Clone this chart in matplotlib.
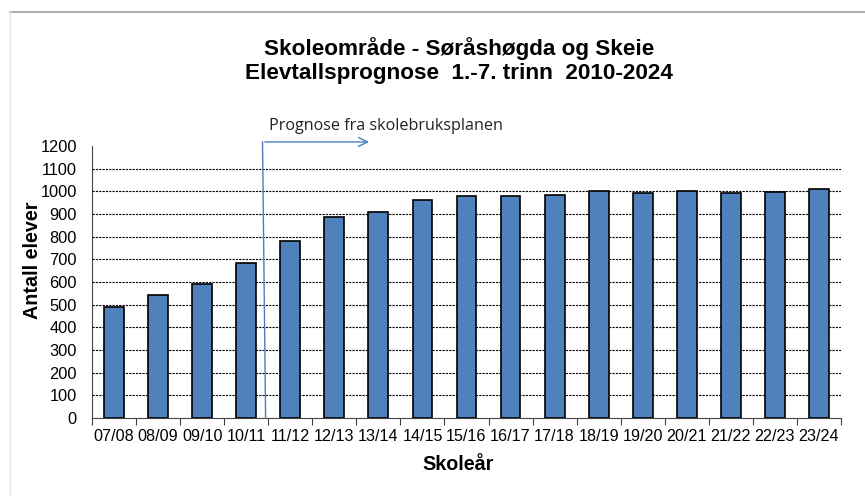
import matplotlib.pyplot as plt
from matplotlib.lines import Line2D
import numpy as np

skolear = ["07/08", "08/09", "09/10", "10/11", "11/12", "12/13", "13/14", "14/15",
           "15/16", "16/17", "17/18", "18/19", "19/20", "20/21", "21/22", "22/23", "23/24"]
elever = [490, 541, 590, 682, 779, 885, 910, 960, 980, 980, 985, 1000, 995, 1000, 995, 998, 1009]

plt.rcParams['font.family'] = ['Liberation Sans', 'DejaVu Sans']

fig = plt.figure(figsize=(8.65, 4.96), dpi=100)
ax = fig.add_axes([0.1064, 0.157, 0.8658, 0.5486])

x = np.arange(len(skolear))
ax.bar(x, elever, width=0.45, color='#4F81BD', edgecolor='black', linewidth=1.2, zorder=3)

ax.set_xlim(-0.5, len(skolear) - 0.5)
ax.set_ylim(0, 1200)
ax.set_yticks(range(0, 1201, 100))
ax.tick_params(axis='y', length=0, pad=11, labelsize=11.8)
ax.set_xticks(x)
ax.set_xticklabels(skolear, fontsize=11.6)
ax.set_xticks(np.arange(-0.5, len(skolear), 1), minor=True)
ax.tick_params(axis='x', which='major', length=0, pad=8)
ax.tick_params(axis='x', which='minor', length=5, width=0.8, color='#444444')

for v in range(100, 1200, 100):
    ax.axhline(v, color='black', linestyle=(0, (2, 1)), linewidth=0.8, zorder=1)

for s in ['top', 'right']:
    ax.spines[s].set_visible(False)
ax.spines['left'].set_color('#444444')
ax.spines['bottom'].set_color('#444444')

ax.set_ylabel('Antall elever', fontsize=14.2, fontweight='bold')
ax.yaxis.set_label_coords(-0.067, 0.58)
ax.set_xlabel('Skoleår', fontsize=14.2, fontweight='bold')
ax.xaxis.set_label_coords(0.489, -0.134)

fig.text(0.531, 0.903, 'Skoleområde - Søråshøgda og Skeie', ha='center', va='center',
         fontsize=16.2, fontweight='bold')
fig.text(0.531, 0.852, 'Elevtallsprognose  1.-7. trinn  2010-2024', ha='center', va='center',
         fontsize=16.2, fontweight='bold')

# prognose-pil
arrow_col = '#4A7EBB'
ax.plot([3.44, 3.37], [0, 1218], color=arrow_col, linewidth=1, clip_on=False, zorder=4)
ax.annotate('', xy=(5.85, 1218), xytext=(3.36, 1218),
            arrowprops=dict(arrowstyle='->', color=arrow_col, lw=1, mutation_scale=16),
            annotation_clip=False)
ax.text(3.52, 1290, 'Prognose fra skolebruksplanen', fontsize=11.6,
        family=['Open Sans', 'DejaVu Sans'], color='#222222', va='center')

# ramme
fig.add_artist(Line2D([0.0116, 1.0], [0.976, 0.976], color='#A0A0A0', linewidth=1.2))
fig.add_artist(Line2D([0.0116, 0.0116], [0.0, 0.976], color='#E6E6E6', linewidth=1))

fig.savefig('out.png', dpi=100)
